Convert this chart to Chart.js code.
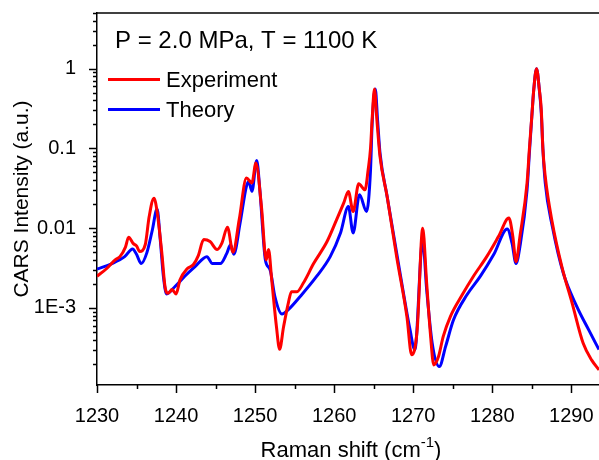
<!DOCTYPE html>
<html>
<head>
<meta charset="utf-8">
<script src="https://cdn.jsdelivr.net/npm/chart.js@4.4.1/dist/chart.umd.min.js"></script>
<style>
  html, body { margin: 0; padding: 0; background: #fff; }
  #wrap { width: 599px; height: 460px; }
</style>
</head>
<body>
<div id="wrap"><canvas id="cars"></canvas></div>
<script>
// Experiment (red) - Raman shift (cm-1) and intensity
const expX = [1230.0, 1231.2, 1232.3, 1232.9, 1233.6, 1234.0, 1234.6, 1235.0, 1235.4, 1236.1, 1236.6, 1237.2, 1237.6, 1238.2, 1238.6,
  1239.0, 1239.5, 1240.0, 1240.5, 1241.4, 1242.2, 1242.8, 1243.5, 1244.3, 1245.2, 1245.8, 1246.5, 1247.2, 1248.0, 1248.9,
  1249.6, 1250.1, 1250.8, 1251.4, 1251.7, 1252.1, 1252.7, 1253.1, 1253.6, 1254.2, 1254.6, 1255.3, 1256.1, 1257.4, 1259.1,
  1260.3, 1261.2, 1261.8, 1262.4, 1263.1, 1263.9, 1264.3, 1264.6, 1264.8, 1265.1, 1265.4, 1265.8, 1266.7, 1267.9, 1269.2,
  1269.8, 1270.5, 1271.2, 1271.7, 1272.2, 1272.6, 1273.2, 1273.8, 1274.7, 1276.2, 1277.6, 1279.3, 1280.8, 1282.1, 1282.6,
  1283.0, 1283.5, 1284.4, 1284.7, 1285.0, 1285.25, 1285.6, 1285.95, 1286.2, 1286.4, 1286.7, 1287.6, 1288.8, 1290.1, 1291.5,
  1292.6, 1293.5];
const expY = [0.0025, 0.0031, 0.0040, 0.0044, 0.0058, 0.0077, 0.0064, 0.0060, 0.0051, 0.0062, 0.014, 0.0238, 0.0162, 0.0049, 0.00186,
  0.00153, 0.0017, 0.0015, 0.00225, 0.0031, 0.0035, 0.0045, 0.0072, 0.0068, 0.0054, 0.0065, 0.0103, 0.0050, 0.013, 0.0425,
  0.037, 0.0656, 0.0187, 0.0040, 0.0054, 0.00225, 0.00058, 0.000304, 0.00058, 0.00115, 0.0016, 0.0016, 0.00205, 0.0036, 0.0068,
  0.0127, 0.0206, 0.0289, 0.0162, 0.036, 0.0303, 0.054, 0.10, 0.23, 0.556, 0.23, 0.079, 0.025, 0.0044, 0.00078,
  0.000258, 0.00053, 0.010, 0.00205, 0.00044, 0.000193, 0.000246, 0.00044, 0.00078, 0.00146, 0.00248, 0.0044, 0.0079, 0.0134, 0.0079,
  0.0038, 0.0079, 0.037, 0.10, 0.252, 0.55, 1.0, 0.55, 0.306, 0.10, 0.0445, 0.0116, 0.0033, 0.00115, 0.00036,
  0.00022, 0.000167];

// Theory (blue)
const thX = [1230.0, 1231.9, 1233.5, 1234.5, 1235.0, 1235.6, 1236.3, 1237.0, 1237.6, 1238.0, 1238.4, 1238.8, 1239.9, 1241.1, 1242.4,
  1243.9, 1244.6, 1245.6, 1246.4, 1246.9, 1247.3, 1248.1, 1248.9, 1249.2, 1249.6, 1250.2, 1250.6, 1251.3, 1251.9, 1252.5,
  1253.4, 1254.2, 1255.7, 1257.8, 1259.5, 1260.8, 1261.8, 1262.4, 1263.2, 1264.1, 1264.6, 1264.8, 1265.2, 1265.5, 1265.8,
  1266.7, 1268.4, 1269.6, 1270.2, 1271.2, 1271.7, 1272.4, 1273.3, 1274.1, 1275.1, 1276.8, 1278.5, 1280.2, 1281.9, 1282.5,
  1283.0, 1283.5, 1284.4, 1284.7, 1285.0, 1285.25, 1285.6, 1285.95, 1286.2, 1286.4, 1286.7, 1287.6, 1289.0, 1290.7, 1292.2,
  1293.5];
const thY = [0.00307, 0.0036, 0.0044, 0.0055, 0.0047, 0.0036, 0.0049, 0.0095, 0.0174, 0.0072, 0.0025, 0.0015, 0.00187, 0.0025, 0.0033,
  0.0044, 0.0036, 0.0036, 0.0048, 0.0062, 0.0047, 0.0116, 0.0334, 0.0386, 0.029, 0.0707, 0.0303, 0.0040, 0.0030, 0.00139,
  0.00084, 0.00095, 0.00139, 0.0025, 0.0044, 0.0087, 0.0187, 0.0087, 0.0262, 0.0162, 0.054, 0.20, 0.556, 0.22, 0.0875,
  0.025, 0.0025, 0.00053, 0.000298, 0.0071, 0.0017, 0.00036, 0.000184, 0.00033, 0.00071, 0.00146, 0.0025, 0.0047, 0.0098, 0.0065,
  0.0036, 0.0059, 0.0303, 0.09, 0.25, 0.55, 1.0, 0.55, 0.278, 0.10, 0.037, 0.0105, 0.0027, 0.00104, 0.00053,
  0.00030];

const xTicks = [1230, 1240, 1250, 1260, 1270, 1280, 1290];
const yTicks = [0.001, 0.01, 0.1, 1];
const yTickLabels = ['1E-3', '0.01', '0.1', '1'];
const seriesNames = ['Experiment', 'Theory'];
const note = 'P = 2.0 MPa, T = 1100 K';

const FONT = "'Liberation Sans', Arial, Helvetica, sans-serif";

function toPoints(xs, ys) {
  return xs.map((x, i) => ({ x: x, y: ys[i] }));
}

// tick marks, frame line, axis titles, legend and note
const decorations = {
  id: 'decorations',
  afterDraw(chart) {
    const ctx = chart.ctx;
    const xs = chart.scales.x, ys = chart.scales.y;
    const area = chart.chartArea;
    ctx.save();
    ctx.strokeStyle = '#000';
    ctx.lineWidth = 1.5;

    // top frame line
    ctx.beginPath();
    ctx.moveTo(area.left, area.top);
    ctx.lineTo(area.right, area.top);
    ctx.stroke();

    // x ticks (major every 10, minor every 5)
    for (let v = 1230; v <= xs.max; v += 5) {
      const px = Math.round(xs.getPixelForValue(v)) + 0.5;
      const len = (v % 10 === 0) ? 8 : 4;
      ctx.beginPath();
      ctx.moveTo(px, area.bottom);
      ctx.lineTo(px, area.bottom + len);
      ctx.stroke();
    }

    // y ticks (log: major at decades, minor at 2..9)
    for (let e = -4; e <= 0; e++) {
      for (let m = 1; m <= 9; m++) {
        const v = m * Math.pow(10, e);
        if (v < ys.min || v > ys.max) continue;
        const py = Math.round(ys.getPixelForValue(v)) + 0.5;
        const len = (m === 1) ? 8 : 4;
        ctx.beginPath();
        ctx.moveTo(area.left, py);
        ctx.lineTo(area.left - len, py);
        ctx.stroke();
      }
    }

    ctx.fillStyle = '#000';

    // y title
    ctx.save();
    ctx.translate(22, (area.top + area.bottom) / 2);
    ctx.rotate(-Math.PI / 2);
    ctx.font = '21px ' + FONT;
    ctx.textAlign = 'center';
    ctx.textBaseline = 'middle';
    ctx.fillText('CARS Intensity (a.u.)', 0, 0);
    ctx.restore();

    // x title with superscript
    ctx.font = '22px ' + FONT;
    ctx.textBaseline = 'alphabetic';
    ctx.textAlign = 'left';
    const t1 = 'Raman shift (cm';
    const sup = '-1';
    const t2 = ')';
    const w1 = ctx.measureText(t1).width;
    const w3 = ctx.measureText(t2).width;
    ctx.font = '15px ' + FONT;
    const w2 = ctx.measureText(sup).width;
    const total = w1 + w2 + w3;
    let sx = 351 - total / 2;
    const by = 457;
    ctx.font = '22px ' + FONT;
    ctx.fillText(t1, sx, by);
    ctx.font = '15px ' + FONT;
    ctx.fillText(sup, sx + w1, by - 10);
    ctx.font = '22px ' + FONT;
    ctx.fillText(t2, sx + w1 + w2, by);

    // note
    ctx.font = '24px ' + FONT;
    ctx.fillText(note, 115, 48);

    // legend
    const ds = chart.data.datasets;
    const rows = [79.5, 109.5];
    ds.forEach((d, i) => {
      ctx.strokeStyle = d.borderColor;
      ctx.lineWidth = 3;
      ctx.beginPath();
      ctx.moveTo(108, rows[i]);
      ctx.lineTo(160, rows[i]);
      ctx.stroke();
      ctx.font = '22px ' + FONT;
      ctx.fillStyle = '#000';
      ctx.fillText(d.label, 166, rows[i] + 7.5);
    });

    ctx.restore();
  }
};

new Chart(document.getElementById('cars'), {
  type: 'line',
  data: {
    datasets: [
      { label: seriesNames[0], data: toPoints(expX, expY), borderColor: '#ff0000', borderWidth: 3,
        pointRadius: 0, fill: false, cubicInterpolationMode: 'monotone' },
      { label: seriesNames[1], data: toPoints(thX, thY), borderColor: '#0000ff', borderWidth: 3,
        pointRadius: 0, fill: false, cubicInterpolationMode: 'monotone' }
    ]
  },
  options: {
    responsive: true,
    maintainAspectRatio: false,
    animation: false,
    layout: { padding: { top: 13, right: 0, left: 0, bottom: 0 } },
    plugins: {
      legend: { display: false },
      tooltip: { enabled: false }
    },
    scales: {
      x: {
        type: 'linear',
        min: 1230,
        max: 1293.5,
        afterBuildTicks: (scale) => { scale.ticks = xTicks.map(v => ({ value: v })); },
        afterFit: (scale) => { scale.height = 75; scale.paddingRight = 0; },
        grid: { display: false },
        border: { display: true, color: '#000', width: 1.5 },
        ticks: {
          color: '#000',
          font: { family: FONT, size: 20 },
          padding: 11,
          maxRotation: 0,
          autoSkip: false,
          callback: (v) => String(v)
        }
      },
      y: {
        type: 'logarithmic',
        min: 1.08e-4,
        max: 5,
        afterBuildTicks: (scale) => { scale.ticks = yTicks.map(v => ({ value: v })); },
        afterFit: (scale) => { scale.width = 97; scale.paddingTop = 0; scale.paddingBottom = 0; },
        grid: { display: false },
        border: { display: true, color: '#000', width: 1.5 },
        ticks: {
          color: '#000',
          font: { family: FONT, size: 20 },
          padding: 13,
          autoSkip: false,
          callback: (v) => {
            const i = yTicks.findIndex(t => Math.abs(t - v) / t < 1e-6);
            return i >= 0 ? yTickLabels[i] : '';
          }
        }
      }
    }
  },
  plugins: [decorations]
});
</script>
</body>
</html>
